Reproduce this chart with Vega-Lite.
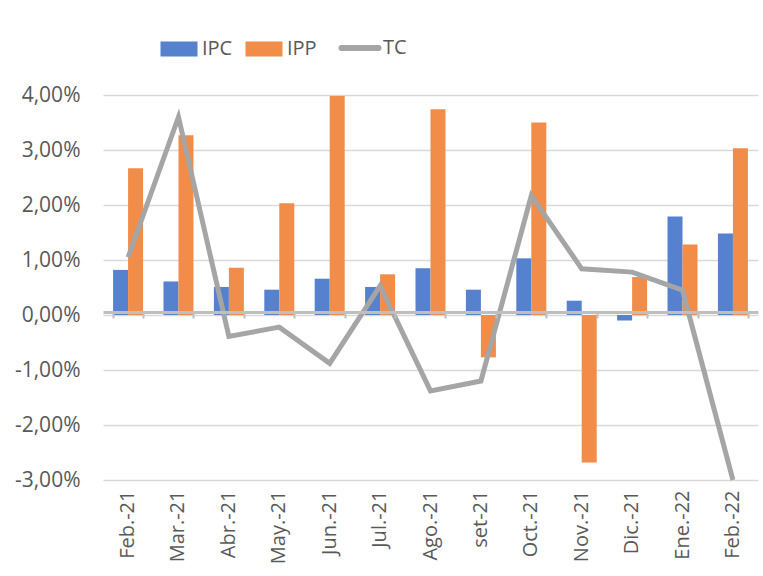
{
  "$schema": "https://vega.github.io/schema/vega-lite/v6.json",
  "autosize": {"type": "none"},
  "padding": {"left": 103, "top": 95, "right": 5, "bottom": 96},
  "width": 655,
  "height": 385,
  "background": "white",
  "config": {
    "locale": {"number": {"decimal": ",", "thousands": ".", "grouping": [3], "currency": ["", " €"], "minus": "-"}},
    "view": {"stroke": null},
    "font": "Open Sans"
  },
  "datasets": {
    "bars": [
      {"month": "Feb.-21", "series": "IPC", "value": 0.0082},
      {"month": "Feb.-21", "series": "IPP", "value": 0.0267},
      {"month": "Mar.-21", "series": "IPC", "value": 0.0061},
      {"month": "Mar.-21", "series": "IPP", "value": 0.0327},
      {"month": "Abr.-21", "series": "IPC", "value": 0.0051},
      {"month": "Abr.-21", "series": "IPP", "value": 0.0086},
      {"month": "May.-21", "series": "IPC", "value": 0.0046},
      {"month": "May.-21", "series": "IPP", "value": 0.0203},
      {"month": "Jun.-21", "series": "IPC", "value": 0.0066},
      {"month": "Jun.-21", "series": "IPP", "value": 0.0398},
      {"month": "Jul.-21", "series": "IPC", "value": 0.0051},
      {"month": "Jul.-21", "series": "IPP", "value": 0.0074},
      {"month": "Ago.-21", "series": "IPC", "value": 0.0085},
      {"month": "Ago.-21", "series": "IPP", "value": 0.0374},
      {"month": "set-21", "series": "IPC", "value": 0.0046},
      {"month": "set-21", "series": "IPP", "value": -0.0077},
      {"month": "Oct.-21", "series": "IPC", "value": 0.0103},
      {"month": "Oct.-21", "series": "IPP", "value": 0.0350},
      {"month": "Nov.-21", "series": "IPC", "value": 0.0026},
      {"month": "Nov.-21", "series": "IPP", "value": -0.0268},
      {"month": "Dic.-21", "series": "IPC", "value": -0.0010},
      {"month": "Dic.-21", "series": "IPP", "value": 0.0069},
      {"month": "Ene.-22", "series": "IPC", "value": 0.0179},
      {"month": "Ene.-22", "series": "IPP", "value": 0.0128},
      {"month": "Feb.-22", "series": "IPC", "value": 0.0148},
      {"month": "Feb.-22", "series": "IPP", "value": 0.0303}
    ],
    "tc": [
      {"month": "Feb.-21", "series": "TC", "value": 0.0105},
      {"month": "Mar.-21", "series": "TC", "value": 0.0360},
      {"month": "Abr.-21", "series": "TC", "value": -0.0039},
      {"month": "May.-21", "series": "TC", "value": -0.0022},
      {"month": "Jun.-21", "series": "TC", "value": -0.0088},
      {"month": "Jul.-21", "series": "TC", "value": 0.0053},
      {"month": "Ago.-21", "series": "TC", "value": -0.0138},
      {"month": "set-21", "series": "TC", "value": -0.0120},
      {"month": "Oct.-21", "series": "TC", "value": 0.0217},
      {"month": "Nov.-21", "series": "TC", "value": 0.0084},
      {"month": "Dic.-21", "series": "TC", "value": 0.0078},
      {"month": "Ene.-22", "series": "TC", "value": 0.0045},
      {"month": "Feb.-22", "series": "TC", "value": -0.0300}
    ]
  },
  "resolve": {"axis": {"x": "independent"}},
  "layer": [
    {
      "data": {"name": "bars"},
      "mark": {"type": "bar"},
      "encoding": {
        "x": {
          "field": "month", "type": "nominal",
          "sort": ["Feb.-21", "Mar.-21", "Abr.-21", "May.-21", "Jun.-21", "Jul.-21", "Ago.-21", "set-21", "Oct.-21", "Nov.-21", "Dic.-21", "Ene.-22", "Feb.-22"],
          "scale": {"paddingInner": 0.405, "paddingOuter": 0.2},
          "axis": {"title": null, "orient": "bottom", "labelAngle": -90, "labelFontSize": 20, "labelColor": "#595959", "labelPadding": 10, "domain": false, "ticks": false, "grid": false}
        },
        "xOffset": {"field": "series", "type": "nominal", "sort": ["IPC", "IPP"]},
        "y": {
          "field": "value", "type": "quantitative",
          "scale": {"domain": [-0.03, 0.04], "nice": false, "zero": false},
          "axis": {"title": null, "format": ".2%", "values": [-0.03, -0.02, -0.01, 0, 0.01, 0.02, 0.03, 0.04], "labelFontSize": 21, "labelColor": "#595959", "labelPadding": 23, "domain": false, "ticks": false, "grid": true, "gridColor": "#D9D9D9", "gridWidth": 1.3}
        },
        "color": {
          "field": "series", "type": "nominal",
          "scale": {"domain": ["IPC", "IPP", "TC"], "range": ["#5581CE", "#F18C49", "#A5A5A5"]},
          "legend": {
            "title": null, "orient": "none", "direction": "horizontal",
            "legendX": 66, "legendY": -57,
            "labelFontSize": 20, "labelColor": "#595959", "labelOffset": 13,
            "symbolSize": 1369, "columnPadding": 12,
            "symbolStrokeWidth": 0,
            "encode": {
              "symbols": {
                "update": {
                  "shape": {"signal": "datum.value === 'TC' ? 'M-1,0H1' : 'M-1,-0.4H1V0.4H-1Z'"},
                  "fill": {"signal": "datum.value === 'TC' ? 'transparent' : (datum.value === 'IPC' ? '#5581CE' : '#F18C49')"},
                  "stroke": {"signal": "datum.value === 'TC' ? '#A5A5A5' : 'transparent'"},
                  "strokeWidth": {"signal": "datum.value === 'TC' ? 6 : 0"},
                  "strokeCap": {"value": "round"}
                }
              }
            }
          }
        }
      }
    },
    {
      "data": {"name": "tc"},
      "mark": {"type": "line", "color": "#A5A5A5", "strokeWidth": 5},
      "encoding": {
        "x": {
          "field": "month", "type": "nominal",
          "sort": ["Feb.-21", "Mar.-21", "Abr.-21", "May.-21", "Jun.-21", "Jul.-21", "Ago.-21", "set-21", "Oct.-21", "Nov.-21", "Dic.-21", "Ene.-22", "Feb.-22"],
          "axis": {"title": null, "orient": "top", "offset": -217, "labels": false, "domain": true, "domainColor": "#BFBFBF", "domainWidth": 3, "ticks": true, "tickColor": "#BFBFBF", "tickWidth": 2, "tickSize": -6, "tickBand": "extent", "grid": false, "zindex": 1}
        },
        "y": {"field": "value", "type": "quantitative"},
        "color": {"field": "series", "type": "nominal"}
      }
    }
  ]
}
